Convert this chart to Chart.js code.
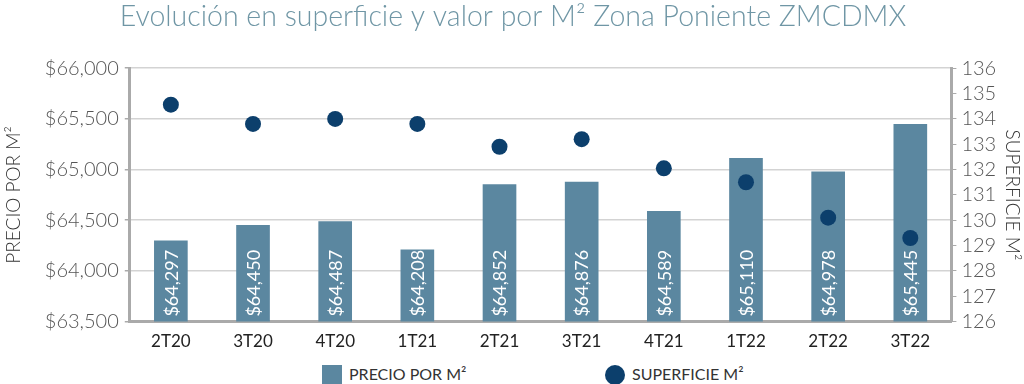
<!DOCTYPE html>
<html>
<head>
<meta charset="utf-8">
<script src="https://cdn.jsdelivr.net/npm/chart.js@4"></script>
<style>
  html, body { margin: 0; padding: 0; background: #fff; }
  #wrap { width: 1024px; height: 384px; position: relative; }
  #legend { position: absolute; top: 363px; left: 0; width: 1024px; height: 22px;
            font-family: Lato, 'Open Sans', sans-serif; font-size: 16px; color: #333; }
  .item { position: absolute; top: 0; height: 22px; line-height: 22px; white-space: nowrap; }
  .swatch { display: inline-block; width: 20px; height: 20px; vertical-align: middle; margin-right: 7px; position: relative; top: -1px; }
</style>
</head>
<body>
<div id="wrap">
  <canvas id="chart" width="1024" height="358"></canvas>
  <div id="legend"></div>
</div>
<script>
// data
const quarters = ["2T20", "3T20", "4T20", "1T21", "2T21", "3T21", "4T21", "1T22", "2T22", "3T22"];
const precioM2 = [64297, 64450, 64487, 64208, 64852, 64876, 64589, 65110, 64978, 65445];
const superficieM2 = [134.56, 133.8, 134.0, 133.8, 132.9, 133.2, 132.05, 131.5, 130.1, 129.3];

const barColor = "#5b87a0";
const dotColor = "#0c3f6c";
const fontFamily = "Lato, 'Open Sans', 'Noto Sans', sans-serif";

const money = (v) => "$" + Number(v).toLocaleString("en-US");

// vertical white value labels at the foot of each bar
const barLabels = {
  id: "barLabels",
  afterDatasetsDraw(chart) {
    const ctx = chart.ctx;
    const xs = chart.scales.x;
    const base = chart.scales.y.getPixelForValue(63500);
    ctx.save();
    ctx.fillStyle = "#ffffff";
    ctx.font = "18px " + fontFamily;
    ctx.textAlign = "left";
    ctx.textBaseline = "middle";
    precioM2.forEach((v, i) => {
      ctx.save();
      ctx.translate(xs.getPixelForValue(i), base - 5);
      ctx.rotate(-Math.PI / 2);
      ctx.fillText(money(v), 0, 1);
      ctx.restore();
    });
    ctx.restore();
  }
};

const chart = new Chart(document.getElementById("chart"), {
  data: {
    labels: quarters,
    datasets: [
      {
        type: "line",
        label: "SUPERFICIE M²",
        data: superficieM2,
        yAxisID: "y1",
        showLine: false,
        pointRadius: 8,
        pointHoverRadius: 8,
        backgroundColor: dotColor,
        borderColor: dotColor,
        borderWidth: 0,
        order: 0
      },
      {
        type: "bar",
        label: "PRECIO POR M²",
        data: precioM2,
        yAxisID: "y",
        backgroundColor: barColor,
        barThickness: 33,
        order: 1
      }
    ]
  },
  options: {
    responsive: false,
    animation: false,
    layout: { padding: { left: 2, right: 0, top: 0, bottom: 4 } },
    plugins: {
      title: {
        display: true,
        text: "Evolución en superficie y valor por M² Zona Poniente ZMCDMX",
        color: "#6f96a5",
        font: { family: fontFamily, size: 28.5, weight: 300 },
        padding: { top: 0, bottom: 34 }
      },
      legend: { display: false },
      tooltip: { enabled: false }
    },
    scales: {
      x: {
        grid: { display: false },
        border: { color: "#aaaaaa", width: 3 },
        ticks: { color: "#222", font: { family: fontFamily, size: 17 }, padding: 2 }
      },
      y: {
        position: "left",
        min: 63500,
        max: 66000,
        ticks: {
          stepSize: 500,
          color: "#555",
          padding: 6,
          font: { family: fontFamily, size: 20, weight: 300 },
          callback: (v) => money(v)
        },
        grid: { color: "#d3d3d3", lineWidth: 1.5, tickLength: 5, tickColor: "#aaaaaa" },
        border: { color: "#aaaaaa", width: 3 },
        title: {
          display: true,
          text: "PRECIO POR M²",
          color: "#333",
          font: { family: fontFamily, size: 19, weight: 300 },
          padding: { top: 0, bottom: 14 }
        }
      },
      y1: {
        position: "right",
        min: 126,
        max: 136,
        ticks: {
          stepSize: 1,
          autoSkip: false,
          color: "#555",
          padding: 5,
          font: { family: fontFamily, size: 20, weight: 300 }
        },
        grid: { drawOnChartArea: false, tickLength: 5, color: "#aaaaaa" },
        border: { color: "#aaaaaa", width: 3 },
        title: {
          display: true,
          text: "SUPERFICIE M²",
          color: "#333",
          font: { family: fontFamily, size: 19, weight: 300 },
          padding: 0
        }
      }
    }
  },
  plugins: [barLabels]
});

// legend below the canvas, built from the datasets
const legendPos = [322, 605];
const legendEl = document.getElementById("legend");
[chart.data.datasets[1], chart.data.datasets[0]].forEach((ds, k) => {
  const item = document.createElement("div");
  item.className = "item";
  item.style.left = legendPos[k] + "px";
  const sw = document.createElement("span");
  sw.className = "swatch";
  sw.style.background = ds.backgroundColor;
  if (ds.type === "line") sw.style.borderRadius = "50%";
  item.appendChild(sw);
  item.appendChild(document.createTextNode(ds.label));
  legendEl.appendChild(item);
});
</script>
</body>
</html>
